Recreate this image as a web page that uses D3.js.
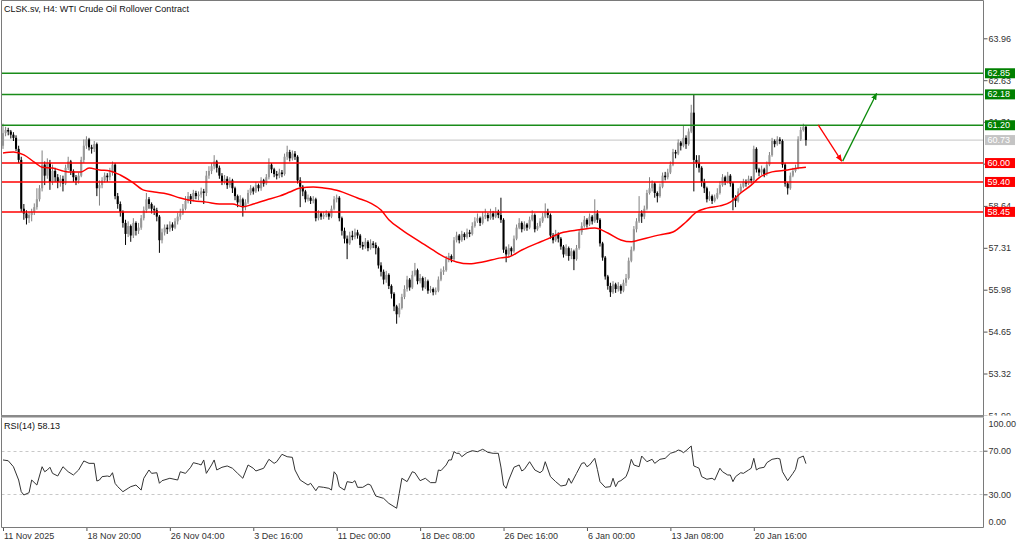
<!DOCTYPE html>
<html><head><meta charset="utf-8">
<script src="https://cdn.jsdelivr.net/npm/d3@7"></script>
<style>
html,body{margin:0;padding:0;background:#fff;}
svg{display:block;font-family:"Liberation Sans",Arial,sans-serif;}
</style></head><body>
<svg id="c" width="1024" height="545"></svg>
<script>
const title = "CLSK.sv, H4:  WTI Crude Oil Rollover Contract";
const rsiLabel = "RSI(14) 58.13";
const firstOpen = 60.55;
const closes = [
60.95,61.05,61.00,60.90,60.80,60.45,60.10,58.55,58.40,58.25,
58.35,58.45,58.60,58.85,59.20,59.95,59.60,60.00,59.40,59.75,
59.55,59.40,59.50,59.35,59.85,60.05,59.75,59.55,59.45,59.60,
60.10,60.55,60.75,60.50,60.45,60.60,59.20,59.30,59.45,59.60,
59.55,59.70,59.95,58.95,58.70,58.45,58.10,57.75,58.00,57.70,
58.10,57.85,57.95,58.25,58.50,58.85,58.70,58.55,58.50,58.30,
57.55,57.80,57.95,57.90,58.05,57.95,58.15,58.30,58.40,58.55,
58.80,58.95,58.85,59.05,58.95,59.00,59.10,59.05,59.60,59.75,
59.90,60.05,59.85,59.60,59.40,59.50,59.30,59.45,59.20,58.95,
58.75,58.85,58.60,58.75,59.05,59.20,59.10,59.30,59.20,59.45,
59.35,59.55,59.95,59.80,59.65,59.60,59.70,59.65,60.20,60.35,
60.15,60.30,60.20,59.45,59.25,59.10,58.85,58.90,58.80,58.85,
58.25,58.40,58.30,58.35,58.40,58.30,58.55,58.85,58.90,58.25,
57.85,57.60,57.45,57.70,57.65,57.80,57.70,57.40,57.35,57.50,
57.30,57.45,57.40,57.30,56.75,56.55,56.30,56.45,56.10,55.85,
55.45,55.20,55.40,55.75,56.00,56.30,56.05,56.45,56.60,56.25,
56.35,56.05,56.25,55.95,56.00,55.90,55.95,56.30,56.55,56.60,
56.95,57.05,56.95,57.55,57.70,57.55,57.75,57.65,57.80,57.75,
58.00,58.15,58.25,58.10,58.30,58.35,58.25,58.40,58.30,58.45,
58.35,58.20,57.25,57.10,57.30,57.20,57.60,57.95,58.10,57.90,
58.05,57.95,58.20,58.35,57.90,58.00,58.15,58.30,58.45,58.35,
57.70,57.55,57.75,57.60,57.35,57.10,57.30,57.05,57.20,56.95,
57.30,57.80,58.00,58.20,58.05,58.30,58.15,58.40,58.20,57.45,
57.00,56.40,56.10,55.90,56.15,56.00,56.10,55.95,56.20,56.35,
56.90,57.25,57.90,58.15,58.40,58.30,58.55,59.05,59.20,59.35,
59.05,58.95,59.25,59.60,59.55,59.70,59.95,60.35,60.30,60.65,
60.55,60.80,60.60,61.00,61.60,60.10,60.00,59.85,59.40,59.20,
58.85,58.95,58.80,58.90,59.05,59.30,59.55,59.40,59.60,59.35,
58.90,58.80,59.10,59.25,59.40,59.35,59.50,59.45,60.45,59.80,
59.70,59.80,59.65,59.95,60.25,60.70,60.60,60.75,60.70,59.95,
59.35,59.20,59.60,59.75,59.85,60.75,61.05,61.15,60.73];
const highs = [
61.25,61.15,61.12,61.05,60.98,60.88,60.55,60.20,58.70,58.50,
58.45,58.55,58.72,59.20,59.30,60.40,60.05,60.15,60.10,59.95,
59.85,59.65,59.62,59.60,59.95,60.20,60.10,59.80,59.62,59.70,
60.20,60.75,60.85,60.80,60.58,60.70,60.65,59.45,59.55,59.70,
59.68,59.85,60.05,60.00,59.05,58.78,58.50,58.20,58.15,58.05,
58.25,58.15,58.10,58.35,58.62,59.05,58.92,58.75,58.65,58.58,
58.35,57.92,58.05,58.05,58.15,58.12,58.25,58.42,58.55,58.70,
58.95,59.08,59.02,59.15,59.12,59.10,59.22,59.18,59.75,59.90,
60.00,60.25,60.10,59.92,59.68,59.62,59.58,59.55,59.50,59.25,
59.00,58.98,58.90,58.85,59.15,59.30,59.25,59.40,59.35,59.55,
59.50,59.65,60.15,60.00,59.85,59.75,59.82,59.78,60.30,60.55,
60.42,60.40,60.38,60.25,59.55,59.30,59.15,59.00,58.95,58.95,
58.90,58.50,58.45,58.45,58.50,58.45,58.65,58.95,59.00,58.95,
58.30,57.95,57.70,57.82,57.85,57.92,57.88,57.75,57.50,57.62,
57.55,57.58,57.52,57.48,57.35,56.85,56.62,56.58,56.50,56.15,
55.90,55.50,55.55,55.85,56.12,56.42,56.35,56.58,56.83,56.65,
56.48,56.40,56.38,56.30,56.10,56.05,56.05,56.40,56.65,56.72,
57.05,57.15,57.10,57.65,57.82,57.75,57.85,57.80,57.92,57.88,
58.12,58.28,58.40,58.30,58.45,58.55,58.42,58.55,58.48,58.60,
58.52,58.90,58.25,57.35,57.42,57.35,57.70,58.05,58.25,58.15,
58.15,58.10,58.30,58.50,58.40,58.10,58.25,58.42,58.72,58.55,
58.40,57.78,57.88,57.80,57.65,57.40,57.42,57.35,57.30,57.25,
57.40,57.90,58.12,58.32,58.25,58.40,58.35,58.85,58.50,58.25,
57.50,57.05,56.45,56.20,56.25,56.20,56.22,56.15,56.30,56.48,
57.00,57.35,58.00,58.25,58.95,58.50,58.65,59.15,59.55,59.45,
59.40,59.10,59.35,59.70,59.72,59.82,60.05,60.45,60.42,60.75,
60.70,61.20,60.88,61.10,61.85,62.18,60.25,60.25,59.90,59.50,
59.25,59.10,59.00,59.00,59.20,59.42,59.65,59.60,59.72,59.65,
59.40,58.98,59.20,59.35,59.50,59.48,59.60,59.58,60.55,60.50,
59.85,59.92,59.85,60.05,60.35,60.80,60.75,60.85,60.82,60.75,
60.00,59.40,59.70,59.85,59.95,60.85,61.15,61.25,61.20];
const lows = [
60.45,60.85,60.88,60.78,60.70,60.38,60.00,58.45,58.20,58.05,
58.10,58.15,58.35,58.52,58.78,59.10,59.30,59.50,59.15,59.30,
59.40,59.20,59.25,59.10,59.30,59.78,59.62,59.40,59.30,59.35,
59.55,60.00,60.45,60.40,60.30,60.35,58.95,58.65,59.20,59.38,
59.40,59.45,59.60,58.85,58.55,58.30,57.95,57.40,57.65,57.50,
57.62,57.70,57.75,57.88,58.18,58.42,58.55,58.40,58.35,58.15,
57.15,57.45,57.70,57.75,57.82,57.85,57.90,58.05,58.20,58.35,
58.50,58.72,58.70,58.78,58.85,58.82,58.90,58.70,58.95,59.50,
59.65,59.80,59.70,59.50,59.30,59.32,59.18,59.22,59.05,58.82,
58.60,58.65,58.30,58.50,58.70,58.98,59.00,59.05,59.10,59.12,
59.25,59.30,59.48,59.68,59.55,59.48,59.52,59.55,59.60,60.10,
60.05,60.08,60.10,59.35,58.60,58.95,58.75,58.78,58.70,58.72,
58.15,58.18,58.20,58.22,58.28,58.20,58.25,58.50,58.75,58.15,
57.70,57.45,56.95,57.40,57.55,57.58,57.60,57.30,57.25,57.28,
57.20,57.25,57.30,57.10,56.65,56.40,56.15,56.20,56.00,55.70,
55.30,54.90,55.10,55.35,55.68,55.92,55.95,56.00,56.40,56.15,
56.18,55.95,56.00,55.85,55.88,55.80,55.82,55.90,56.25,56.45,
56.55,56.85,56.85,56.90,57.48,57.45,57.50,57.55,57.60,57.65,
57.70,57.95,58.10,58.00,58.05,58.22,58.15,58.20,58.20,58.25,
58.25,58.10,57.15,56.85,57.00,57.05,57.15,57.55,57.90,57.80,
57.85,57.85,57.90,58.15,57.80,57.85,57.95,58.10,58.25,58.25,
57.60,57.45,57.50,57.48,57.25,57.00,57.05,56.90,56.95,56.60,
56.90,57.25,57.72,57.95,57.95,58.00,58.05,58.10,58.10,57.35,
56.90,56.30,55.98,55.75,55.85,55.88,55.92,55.85,55.90,56.10,
56.30,56.85,57.20,57.80,58.10,58.10,58.22,58.50,59.00,59.10,
58.90,58.75,58.90,59.20,59.45,59.48,59.65,59.90,60.15,60.25,
60.40,60.50,60.45,60.55,60.95,59.10,59.85,59.70,59.25,59.05,
58.75,58.80,58.70,58.75,58.85,59.00,59.25,59.30,59.35,59.25,
58.50,58.60,58.75,59.05,59.20,59.25,59.30,59.35,59.40,59.70,
59.58,59.62,59.55,59.60,59.90,60.20,60.50,60.55,60.60,59.85,
59.25,59.00,59.15,59.55,59.70,59.80,60.70,61.00,60.55];
const maBars = [0,4,8,12,15,19,25,30,33,37,41,45,50,54,58,63,68,73,78,83,88,92,96,101,106,110,114,119,123,128,136,141,145,148,153,160,166,170,174,179,184,191,194,199,205,208,214,221,227,232,237,241,244,252,257,262,266,270,275,279,283,287,290,295,301,305,308];
const maVals = [60.32,60.35,60.26,60.03,59.87,59.84,59.72,59.72,59.84,59.78,59.75,59.62,59.37,59.14,59.08,59.02,58.89,58.80,58.76,58.70,58.70,58.61,58.70,58.83,58.95,59.08,59.21,59.24,59.21,59.14,58.89,58.73,58.51,58.20,57.88,57.50,57.18,56.99,56.86,56.80,56.86,56.99,57.02,57.24,57.46,57.56,57.78,57.88,57.94,57.78,57.56,57.50,57.56,57.72,57.81,58.13,58.44,58.57,58.64,58.76,59.05,59.30,59.53,59.72,59.78,59.84,59.87];
const rsiBars = [0,2,4,6,7,8,10,11,13,15,16,17,18,19,21,23,25,27,29,31,33,35,36,37,38,40,41,42,43,44,46,48,49,51,53,54,56,57,59,60,61,64,67,68,70,72,73,75,76,77,78,80,81,82,84,86,88,90,92,94,96,97,100,102,104,105,107,109,111,112,114,117,118,120,121,123,125,126,127,128,129,131,132,134,135,136,138,140,141,143,146,148,151,152,153,155,157,158,160,162,164,166,167,168,170,171,172,173,174,175,176,178,180,182,184,185,186,188,190,191,192,193,194,196,198,199,200,202,204,206,207,208,210,212,214,216,217,218,220,222,223,224,225,227,228,229,231,233,234,235,236,237,239,240,241,242,244,245,247,249,250,252,254,256,258,259,260,261,262,264,265,266,267,268,270,272,273,275,276,278,279,280,281,283,284,286,287,288,289,290,292,293,295,297,298,299,301,303,304,305,307,308];
const rsiVals = [61.5,60.8,55.3,43.1,32.4,29.4,31.5,43.1,38.5,55.3,50.7,52.3,54.8,49.2,46.8,55.3,50.7,47.7,52.3,60.6,58.4,58.4,42.2,43.1,46.2,46.8,46.2,49.8,40.0,37.0,32.4,35.5,37.0,38.5,33.9,44.7,52.3,49.2,49.8,40.1,42.5,44.7,43.1,50.7,49.2,54.8,59.0,57.8,56.9,61.5,49.2,56.9,61.5,52.3,54.8,56.0,53.9,49.2,44.7,56.9,53.9,51.4,53.9,62.1,58.4,59.9,66.7,64.5,63.9,52.3,43.1,38.5,40.1,33.3,37.0,36.4,35.5,33.9,50.7,47.7,37.0,33.9,41.6,40.7,42.5,36.4,36.4,39.4,38.5,28.4,26.3,21.7,17.2,30.9,44.7,41.6,50.7,49.8,42.5,44.7,40.7,40.7,52.3,51.7,56.9,61.5,61.5,69.1,67.6,67.6,64.5,68.2,70.0,69.1,71.3,70.0,68.5,67.6,67.6,55.0,38.5,35.5,43.1,54.8,56.9,51.4,52.9,59.9,52.3,49.8,51.7,59.9,46.2,41.6,37.6,38.5,44.7,40.1,49.2,58.4,59.0,55.3,56.9,63.0,52.9,41.6,36.4,37.0,44.7,37.0,41.6,42.5,46.2,52.3,62.1,56.9,55.3,65.1,59.9,62.1,58.4,62.1,63.0,67.6,69.1,70.6,70.0,68.2,70.0,74.3,56.0,55.0,53.9,46.2,43.8,44.7,43.1,53.9,50.7,47.7,47.7,41.6,46.2,49.8,49.2,52.3,53.9,63.0,52.3,53.9,54.8,59.0,62.1,63.0,62.5,50.7,42.5,49.2,52.9,63.0,65.1,58.13];
const priceTicks = [63.96,62.63,61.31,59.98,58.64,57.31,55.98,54.65,53.32,51.99];
const rsiTicks = [100,70,30,0];
const rsiLevels = [70,30];
const dateBars = [0,32,64,96,128,160,192,224,256,288];
const dateLabels = ["11 Nov 2025","18 Nov 20:00","26 Nov 04:00","3 Dec 16:00","11 Dec 00:00","18 Dec 08:00","26 Dec 16:00","6 Jan 00:00","13 Jan 08:00","20 Jan 16:00"];
const greenLevels = [62.85,62.18,61.20];
const redLevels = [60.00,59.40,58.45];
const lastPrice = 60.73;
const arrowBars = [312.7,321.7,335.1];
const arrowPrices = [61.21,60.06,62.21];

const svg = d3.select("#c");
const L = 1.5, R = 983.5, mainBot = 415, rsiTop = 417.5, rsiBot = 527;
const x = d3.scaleLinear().domain([0,288]).range([3,753.8]);
const y = d3.scaleLinear().domain([53.32,63.96]).range([373.5,38.3]);
const yr = d3.scaleLinear().domain([0,100]).range([527,418]);
const fmt = d3.format(".2f");

const defs = svg.append("defs");
defs.append("clipPath").attr("id","mainClip").append("rect").attr("x",2).attr("y",1).attr("width",981).attr("height",414);
defs.append("clipPath").attr("id","rsiClip").append("rect").attr("x",2).attr("y",418).attr("width",981).attr("height",109);
defs.append("clipPath").attr("id","axClip").append("rect").attr("x",983).attr("y",0).attr("width",41).attr("height",415.5);
function marker(id,color){
  defs.append("marker").attr("id",id).attr("viewBox","0 0 10 10").attr("refX",9).attr("refY",5)
    .attr("markerWidth",7).attr("markerHeight",7).attr("markerUnits","userSpaceOnUse").attr("orient","auto")
    .append("path").attr("d","M0,1 L10,5 L0,9 z").attr("fill",color);
}
marker("arrRed","#ff0000"); marker("arrGreen","#0a8a0a");

// title
svg.append("text").attr("x",4).attr("y",11.5).attr("font-size",9).attr("fill","#111").text(title);

const main = svg.append("g").attr("clip-path","url(#mainClip)");
// current price line
main.append("line").attr("x1",L).attr("x2",R).attr("y1",y(lastPrice)).attr("y2",y(lastPrice))
  .attr("stroke","#d0d0d0").attr("stroke-width",1.3);

// candles
const bars = closes.map((c,i)=>{
  const o = i ? closes[i-1] : firstOpen;
  return {i,o,c,h:Math.max(highs[i],o,c),l:Math.min(lows[i],o,c)};
});
const cg = main.append("g");
cg.selectAll("line.w").data(bars).join("line").attr("class","w")
  .attr("x1",d=>x(d.i)).attr("x2",d=>x(d.i)).attr("y1",d=>y(d.h)).attr("y2",d=>y(d.l))
  .attr("stroke",d=>d.c>=d.o?"#808080":"#000").attr("stroke-width",1);
cg.selectAll("rect.b").data(bars).join("rect").attr("class","b")
  .attr("x",d=>x(d.i)-1.05).attr("width",2.1)
  .attr("y",d=>y(Math.max(d.o,d.c)))
  .attr("height",d=>Math.max(1,Math.abs(y(d.o)-y(d.c))))
  .attr("fill",d=>d.c>=d.o?"#989898":"#000");

// moving average
main.append("path").datum(maBars.map((b,k)=>[b,maVals[k]]))
  .attr("d",d3.line().x(d=>x(d[0])).y(d=>y(d[1])).curve(d3.curveMonotoneX))
  .attr("fill","none").attr("stroke","#ff0000").attr("stroke-width",1.5);

// level lines
greenLevels.forEach(v=>main.append("line").attr("x1",L).attr("x2",R).attr("y1",y(v)).attr("y2",y(v))
  .attr("stroke","#1a8c1a").attr("stroke-width",1.5));
redLevels.forEach(v=>main.append("line").attr("x1",L).attr("x2",R).attr("y1",y(v)).attr("y2",y(v))
  .attr("stroke","#ff0000").attr("stroke-width",1.5));

// arrows
main.append("line").attr("x1",x(arrowBars[0])).attr("y1",y(arrowPrices[0]))
  .attr("x2",x(arrowBars[1])).attr("y2",y(arrowPrices[1]))
  .attr("stroke","#ff0000").attr("stroke-width",1.3).attr("marker-end","url(#arrRed)");
main.append("line").attr("x1",x(arrowBars[1])+1).attr("y1",y(arrowPrices[1]))
  .attr("x2",x(arrowBars[2])).attr("y2",y(arrowPrices[2]))
  .attr("stroke","#0a8a0a").attr("stroke-width",1.3).attr("marker-end","url(#arrGreen)");

// price axis
const pax = svg.append("g").attr("clip-path","url(#axClip)").append("g").attr("transform",`translate(${R},0)`)
  .call(d3.axisRight(y).tickValues(priceTicks).tickSize(4).tickSizeOuter(0).tickPadding(1).tickFormat(fmt));
pax.select(".domain").remove();
pax.selectAll(".tick line").attr("stroke","#555");
pax.selectAll(".tick text").attr("font-size",9).attr("fill","#333").attr("font-family","Liberation Sans, Arial, sans-serif");

// level boxes
function box(v,col){
  svg.append("rect").attr("x",985).attr("y",y(v)-5).attr("width",30).attr("height",10).attr("fill",col);
  svg.append("text").attr("x",987.5).attr("y",y(v)).attr("dy","0.34em").attr("font-size",9)
    .attr("fill","#fff").text(fmt(v));
}
box(lastPrice,"#c4c4c4");
greenLevels.forEach(v=>box(v,"#008000"));
redLevels.forEach(v=>box(v,"#ff0000"));

// RSI panel
const rg = svg.append("g").attr("clip-path","url(#rsiClip)");
rsiLevels.forEach(v=>rg.append("line").attr("x1",L).attr("x2",R).attr("y1",Math.round(yr(v))+0.5).attr("y2",Math.round(yr(v))+0.5)
  .attr("stroke","#c8c8c8").attr("stroke-dasharray","3,3").attr("stroke-width",1));
rg.append("path").datum(rsiBars.map((b,k)=>[b,rsiVals[k]]))
  .attr("d",d3.line().x(d=>x(d[0])).y(d=>yr(d[1])))
  .attr("fill","none").attr("stroke","#333").attr("stroke-width",1);
svg.append("text").attr("x",4).attr("y",428.5).attr("font-size",9).attr("fill","#111").text(rsiLabel);

const rax = svg.append("g").attr("transform",`translate(${R},0)`)
  .call(d3.axisRight(yr).tickValues(rsiTicks).tickSize(4).tickSizeOuter(0).tickPadding(1).tickFormat(fmt));
rax.select(".domain").remove();
rax.selectAll(".tick line").attr("stroke","#555").attr("opacity",d=>(d===100||d===0)?0:1);
rax.selectAll(".tick text").attr("font-size",9).attr("fill","#333").attr("font-family","Liberation Sans, Arial, sans-serif")
  .attr("y",d=>d===100?5.5:(d===0?-5.5:0));

// date axis
const dax = svg.append("g").attr("transform",`translate(0,${rsiBot})`)
  .call(d3.axisBottom(x).tickValues(dateBars).tickSize(4).tickSizeOuter(0).tickPadding(2).tickFormat((d,i)=>dateLabels[i]));
dax.select(".domain").remove();
dax.selectAll(".tick line").attr("stroke","#555");
dax.selectAll(".tick text").attr("text-anchor","start").attr("x",0.5).attr("font-size",9).attr("fill","#333")
  .attr("font-family","Liberation Sans, Arial, sans-serif");

// frames
const fr = svg.append("g").attr("fill","none").attr("stroke","#7a7a7a");
fr.append("path").attr("d",`M${L},${mainBot} L${L},0.5 L${R},0.5 L${R},${mainBot}`);
svg.append("rect").attr("x",1).attr("y",mainBot).attr("width",R-0.5).attr("height",2.5).attr("fill","#8a8a8a");
fr.append("path").attr("d",`M${L},${rsiTop} L${L},${rsiBot}.5 L${R},${rsiBot}.5 L${R},${rsiTop}`);
</script>
</body></html>
